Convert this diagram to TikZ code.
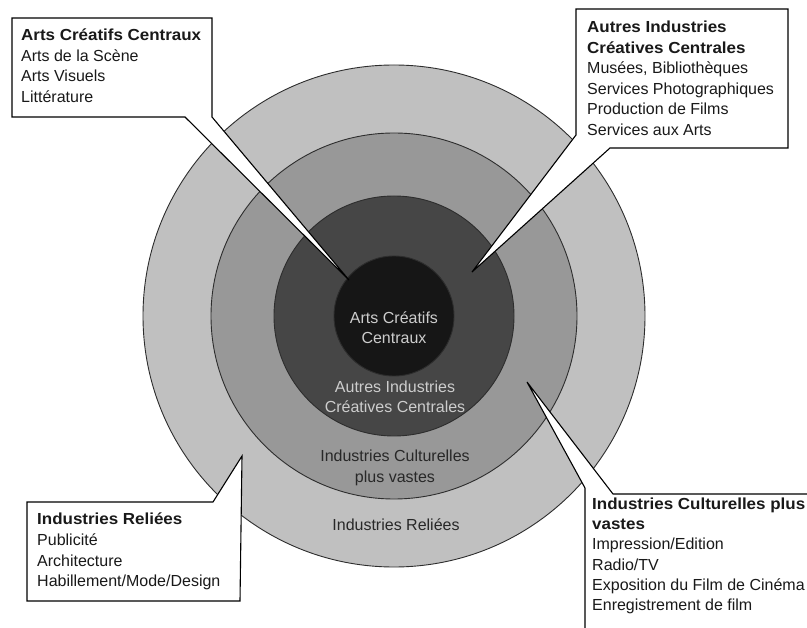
\documentclass[tikz,border=0pt]{standalone}
\usepackage{fontspec}
\setmainfont{Liberation Sans}[BoldFeatures={FakeStretch=1.06}]
\newcommand\boxfont{\fontsize{16}{20}\selectfont}
\definecolor{ringA}{RGB}{192,192,192}
\definecolor{ringB}{RGB}{152,152,152}
\definecolor{ringC}{RGB}{70,70,70}
\definecolor{ringD}{RGB}{22,22,22}
\definecolor{lighttxt}{RGB}{205,205,205}
\definecolor{darktxt}{RGB}{40,40,40}
\definecolor{edge}{RGB}{45,45,45}
\tikzset{
  ring/.style={draw=edge, line width=0.9pt},
  callout/.style={draw=black, fill=white, line width=1.1pt, line join=miter},
  lbl/.style={anchor=base west, inner sep=0pt, font=\boxfont, text=black!90},
  hd/.style={lbl, font=\boxfont\bfseries},
  ctr/.style={anchor=base, inner sep=0pt, font=\boxfont}
}
\begin{document}
\begin{tikzpicture}[x=1pt, y=-1pt]
\useasboundingbox (0,0) rectangle (807,628);
\clip (0,0) rectangle (807,628);
\fill[white] (0,0) rectangle (807,628);
% concentric circles
\coordinate (c) at (394,316);
\fill[ringA, ring] (c) circle[radius=251pt];
\fill[ringB, ring] (c) circle[radius=183pt];
\fill[ringC, ring] (c) circle[radius=120pt];
\fill[ringD, ring] (c) circle[radius=60pt];
% centre labels
\node[ctr, text=lighttxt] (t1a) at (394,324) {Arts Créatifs};
\node[ctr, text=lighttxt] (t1b) at (394,344) {Centraux};
\node[ctr, text=lighttxt] (t2a) at (395,393) {Autres Industries};
\node[ctr, text=lighttxt] (t2b) at (395,413) {Créatives Centrales};
\node[ctr, text=darktxt] (t3a) at (395,462) {Industries Culturelles};
\node[ctr, text=darktxt] (t3b) at (395,483) {plus vastes};
\node[ctr, text=darktxt] (t4a) at (396,531) {Industries Reliées};
% callout 1 (top left)
\coordinate (a1) at (12,18);
\coordinate (a2) at (212,18);
\coordinate (a3) at (212,117);
\coordinate (a4) at (349,280);
\coordinate (a5) at (185,117);
\coordinate (a6) at (12,117);
\draw[callout] (a1) -- (a2) -- (a3) -- (a4) -- (a5) -- (a6) -- cycle;
\node[hd] (b1h) at (21,41) {Arts Créatifs Centraux};
\node[lbl] (b1a) at (21,61.5) {Arts de la Scène};
\node[lbl] (b1b) at (21,82) {Arts Visuels};
\node[lbl] (b1c) at (21,102.5) {Littérature};
% callout 2 (top right)
\coordinate (d1) at (576,9);
\coordinate (d2) at (788,9);
\coordinate (d3) at (788,148);
\coordinate (d4) at (610,148);
\coordinate (d5) at (472,272);
\coordinate (d6) at (576,135);
\draw[callout] (d1) -- (d2) -- (d3) -- (d4) -- (d5) -- (d6) -- cycle;
\node[hd] (b2h) at (587,33) {Autres Industries};
\node[hd] (b2i) at (587,53.5) {Créatives Centrales};
\node[lbl] (b2a) at (587,74) {Musées, Bibliothèques};
\node[lbl] (b2b) at (587,94.5) {Services Photographiques};
\node[lbl] (b2c) at (587,115) {Production de Films};
\node[lbl] (b2d) at (587,135.5) {Services aux Arts};
% callout 3 (bottom left)
\coordinate (e1) at (27,502);
\coordinate (e2) at (213,502);
\coordinate (e3) at (242,456);
\coordinate (e4) at (240,601);
\coordinate (e5) at (27,601);
\draw[callout] (e1) -- (e2) -- (e3) -- (e4) -- (e5) -- cycle;
\node[hd] (b3h) at (37,525) {Industries Reliées};
\node[lbl] (b3a) at (37,545.5) {Publicité};
\node[lbl] (b3b) at (37,566) {Architecture};
\node[lbl] (b3c) at (37,586.5) {Habillement/Mode/Design};
% callout 4 (bottom right)
\coordinate (f1) at (585,640);
\coordinate (f2) at (585,488);
\coordinate (f3) at (527,382);
\coordinate (f4) at (613,494);
\coordinate (f5) at (815,494);
\coordinate (f6) at (815,640);
\draw[callout] (f1) -- (f2) -- (f3) -- (f4) -- (f5) -- (f6) -- cycle;
\node[hd] (b4h) at (592,510) {Industries Culturelles plus};
\node[hd] (b4i) at (592,530) {vastes};
\node[lbl] (b4a) at (592,550) {Impression/Edition};
\node[lbl] (b4b) at (592,570.5) {Radio/TV};
\node[lbl] (b4c) at (592,590.5) {Exposition du Film de Cinéma};
\node[lbl] (b4d) at (592,610.5) {Enregistrement de film};
\end{tikzpicture}
\end{document}
